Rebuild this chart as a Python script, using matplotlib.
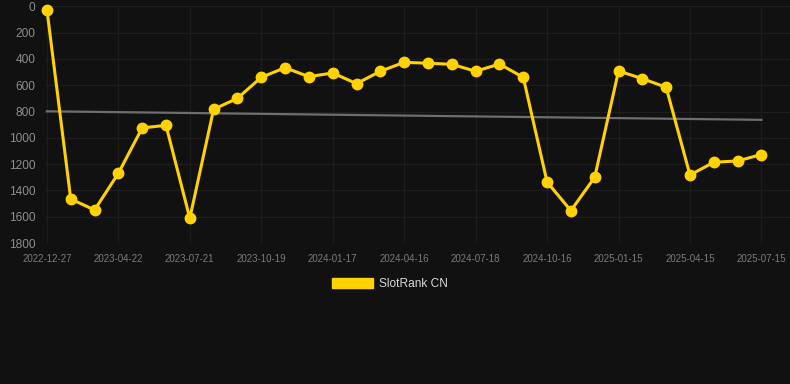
import numpy as np
import matplotlib.pyplot as plt
from matplotlib.patches import Patch

plt.rcParams['font.family'] = ['Liberation Sans', 'DejaVu Sans']

# Rank values, one per period (lower rank = better, axis inverted)
dates = ["2022-12-27", "", "", "2023-04-22", "", "", "2023-07-21", "", "",
         "2023-10-19", "", "", "2024-01-17", "", "", "2024-04-16", "", "",
         "2024-07-18", "", "", "2024-10-16", "", "", "2025-01-15", "", "",
         "2025-04-15", "", "", "2025-07-15"]
rank = [25, 1465, 1549, 1270, 925, 905, 1612, 783, 700, 540, 467,
        535, 507, 588, 494, 426, 433, 441, 494, 439, 540, 1336,
        1554, 1300, 492, 550, 616, 1283, 1186, 1176, 1127]
y_ticks = [0, 200, 400, 600, 800, 1000, 1200, 1400, 1600, 1800]
series_name = "SlotRank CN"

bg = "#111111"
yellow = "#FFD200"

x = np.arange(len(rank))
label_idx = [i for i, d in enumerate(dates) if d]

# Linear trend through the series
slope, intercept = np.polyfit(x, rank, 1)
trend = slope * x + intercept

fig = plt.figure(figsize=(7.9, 3.84), dpi=100)
fig.patch.set_facecolor(bg)
ax = fig.add_axes([45 / 790, 1 - 243 / 384, 745 / 790, (243 - 6.3) / 384])
ax.set_facecolor(bg)

ax.plot(x, trend, color="#6e6e6e", lw=1.6, zorder=2)
ax.plot(x, rank, color=yellow, lw=2.2, marker="o", markersize=7.5, zorder=3,
        clip_on=False)

ax.set_xlim(-0.08, 31.2)
ax.set_ylim(1800, 0)
ax.set_yticks(y_ticks)
ax.set_xticks(label_idx)
ax.set_xticklabels([dates[i] for i in label_idx])

ax.grid(True, color="#1d1d1d", lw=0.9, zorder=0)
for s in ax.spines.values():
    s.set_visible(False)
ax.tick_params(axis="y", length=0, pad=7, labelsize=8.6, labelcolor="#8c8c8c")
ax.tick_params(axis="x", length=0, pad=8, labelsize=7, labelcolor="#7a7a7a")

handle = Patch(facecolor=yellow, edgecolor=yellow, label=series_name)
leg = fig.legend(handles=[handle], loc="center", bbox_to_anchor=(390 / 790, 1 - 284 / 384),
                 frameon=False, fontsize=8.6, handlelength=3.4, handleheight=0.93,
                 handletextpad=0.5, labelcolor="#d8d8d8")

fig.savefig("out.png", dpi=100, facecolor=bg)
